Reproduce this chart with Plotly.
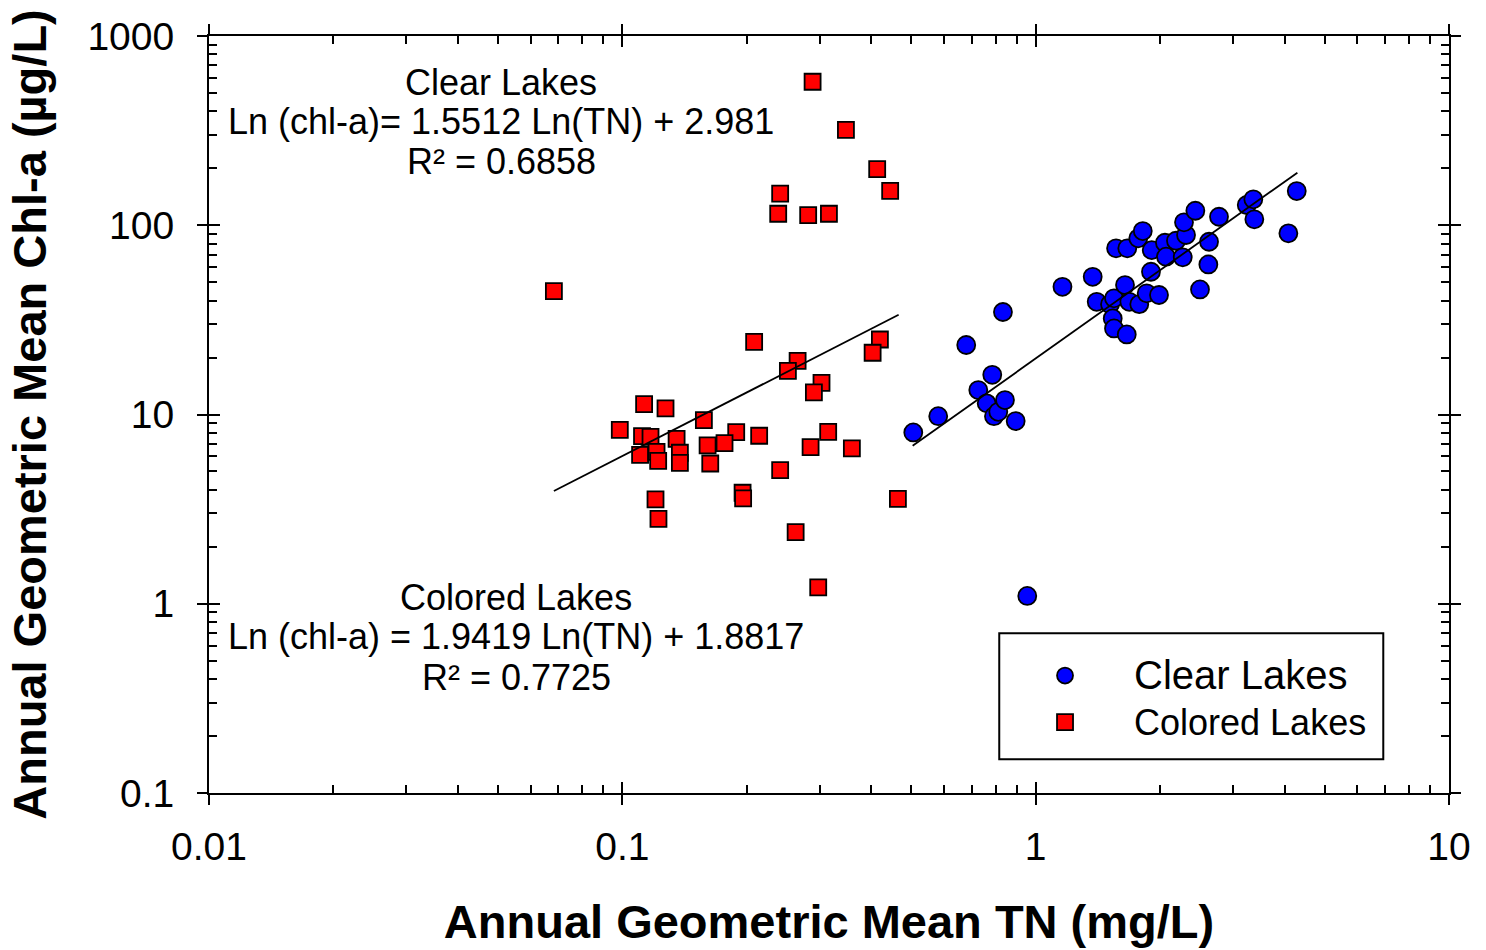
import plotly.graph_objects as go

# ---------------- data ----------------
clear_tn = [0.5057, 0.5811, 0.6792, 0.7264, 0.7611, 0.7852, 0.7927, 0.8120, 0.8334,
            0.8428, 0.8946, 0.9543, 1.161, 1.374, 1.405, 1.513, 1.547, 1.645, 1.536,
            1.547, 1.661, 1.685, 1.781, 1.856, 1.988, 1.901, 1.565, 1.666, 1.771,
            1.816, 1.909, 2.055, 2.067, 2.185, 2.269, 2.311, 2.285, 2.434, 2.627,
            2.617, 2.498, 2.777, 3.241, 3.362, 3.381, 4.087, 4.282]
clear_chl = [8.04, 9.80, 23.3, 13.46, 11.45, 16.2, 9.80, 10.33, 34.8,
             11.92, 9.23, 1.10, 47.3, 53.4, 39.4, 38.2, 41.1, 48.3, 32.2,
             28.5, 26.5, 39.4, 38.3, 43.7, 42.8, 56.8, 75.5, 75.5, 85.3,
             93.2, 73.9, 80.8, 68.2, 82.8, 67.7, 88.8, 103.6, 119.3, 81.8,
             62.1, 45.8, 110.9, 127.9, 137.1, 107.5, 90.6, 151.6]

colored_tn = [0.2886, 0.3475, 0.4136, 0.4446, 0.2409, 0.2383, 0.2816, 0.3161, 0.0683,
              0.2084, 0.4199, 0.4032, 0.2655, 0.2515, 0.3033, 0.2907, 0.1129, 0.1272,
              0.1575, 0.0986, 0.1116, 0.1170, 0.1353, 0.1886, 0.2143, 0.3148, 0.1608,
              0.1767, 0.2854, 0.3592, 0.1104, 0.1210, 0.1221, 0.1378, 0.1378, 0.1632,
              0.2409, 0.1203, 0.1954, 0.1960, 0.4642, 0.1223, 0.2626, 0.2978]
colored_chl = [573, 319, 198, 152, 147, 115, 113, 115, 44.9,
               24.2, 24.9, 21.2, 19.2, 17.0, 14.7, 13.1, 11.35, 10.77,
               9.34, 8.30, 7.69, 7.62, 7.44, 8.07, 7.72, 8.10, 6.87,
               7.06, 6.73, 6.62, 6.12, 6.35, 5.69, 6.28, 5.55, 5.51,
               5.08, 3.56, 3.86, 3.60, 3.58, 2.81, 2.39, 1.22]

# fitted lines (end points)
clear_fit_tn = [0.5039, 4.297]
clear_fit_chl = [6.83, 189.5]
colored_fit_tn = [0.0683, 0.4661]
colored_fit_chl = [3.94, 33.65]

x_tickvals = [0.01, 0.1, 1, 10]
x_ticktext = ["0.01", "0.1", "1", "10"]
y_tickvals = [0.1, 1, 10, 100, 1000]
y_ticktext = ["0.1", "1", "10", "100", "1000"]

x_title = "Annual Geometric Mean TN (mg/L)"
y_title = "Annual Geometric Mean Chl-a (µg/L)"

clear_eq = ["Clear Lakes", "Ln (chl-a)= 1.5512 Ln(TN) + 2.981", "R² = 0.6858"]
colored_eq = ["Colored Lakes", "Ln (chl-a) = 1.9419 Ln(TN) + 1.8817", "R² = 0.7725"]

FONT = "Liberation Sans, Arial, sans-serif"

fig = go.Figure()

fig.add_trace(go.Scatter(
    x=clear_fit_tn, y=clear_fit_chl, mode="lines", xaxis="x2", yaxis="y2",
    line=dict(color="black", width=1.8), showlegend=False, hoverinfo="skip"))
fig.add_trace(go.Scatter(
    x=colored_fit_tn, y=colored_fit_chl, mode="lines", xaxis="x2", yaxis="y2",
    line=dict(color="black", width=1.8), showlegend=False, hoverinfo="skip"))

fig.add_trace(go.Scatter(
    x=colored_tn, y=colored_chl, mode="markers",
    name='<span style="font-size:36px">Colored Lakes</span>',
    marker=dict(symbol="square", size=16, color="#FF0000",
                line=dict(color="black", width=1.8))))
fig.add_trace(go.Scatter(
    x=clear_tn, y=clear_chl, mode="markers",
    name='<span style="font-size:40px">Clear Lakes</span>',
    marker=dict(symbol="circle", size=18, color="#0000FF",
                line=dict(color="black", width=1.8))))

common_axis = dict(
    type="log", showgrid=False, zeroline=False,
    linecolor="black", linewidth=2, showline=True, mirror="ticks",
    ticks="inside", ticklen=11, tickwidth=1.8, tickcolor="black",
    tickfont=dict(family=FONT, size=39, color="black"),
    minor=dict(ticks="inside", ticklen=8, tickwidth=1.5, tickcolor="black",
               dtick="D1", showgrid=False),
)

overlay_axis = dict(
    type="log", showgrid=False, zeroline=False, showline=False,
    mirror="ticks", ticks="outside", ticklen=11, tickwidth=1.8,
    tickcolor="black", showticklabels=False,
)

fig.update_layout(
    width=1486, height=950,
    margin=dict(l=209, r=37, t=36, b=157),
    paper_bgcolor="white", plot_bgcolor="white",
    font=dict(family=FONT, color="black"),
    xaxis=dict(common_axis, range=[-2, 1], tickmode="array",
               tickvals=x_tickvals, ticktext=x_ticktext, ticklabelstandoff=18,
               title=dict(text=f"<b>{x_title}</b>",
                          font=dict(family=FONT, size=47, color="black"),
                          standoff=38)),
    yaxis=dict(common_axis, range=[-1, 3], tickmode="array",
               tickvals=y_tickvals, ticktext=y_ticktext, ticklabelstandoff=25,
               title=dict(text=f"<b>{y_title}</b>",
                          font=dict(family=FONT, size=47, color="black"),
                          standoff=26)),
    xaxis2=dict(overlay_axis, range=[-2, 1], overlaying="x", anchor="y2",
                tickmode="array", tickvals=x_tickvals),
    yaxis2=dict(overlay_axis, range=[-1, 3], overlaying="y", anchor="x2",
                tickmode="array", tickvals=y_tickvals),
    legend=dict(x=0.6347, y=0.1925, xanchor="left", yanchor="top",
                bgcolor="rgba(0,0,0,0)", borderwidth=0,
                font=dict(family=FONT, size=33.5, color="black"),
                itemwidth=128, traceorder="reversed"),
    showlegend=True,
)

# legend frame
fig.add_shape(type="rect", xref="paper", yref="paper",
              x0=0.6373, y0=0.0445, x1=0.9470, y1=0.2110,
              line=dict(color="black", width=2), fillcolor="rgba(0,0,0,0)")

# equation annotations
for text, yp in zip(clear_eq, [0.9392, 0.8864, 0.8336]):
    fig.add_annotation(text=text, xref="paper", yref="paper", x=0.2355, y=yp,
                       xanchor="center", yanchor="middle", showarrow=False,
                       font=dict(family=FONT, size=36, color="black"))
for text, yp in zip(colored_eq, [0.2589, 0.2061, 0.1532]):
    fig.add_annotation(text=text, xref="paper", yref="paper", x=0.2476, y=yp,
                       xanchor="center", yanchor="middle", showarrow=False,
                       font=dict(family=FONT, size=36, color="black"))

fig.write_html("out.html")
